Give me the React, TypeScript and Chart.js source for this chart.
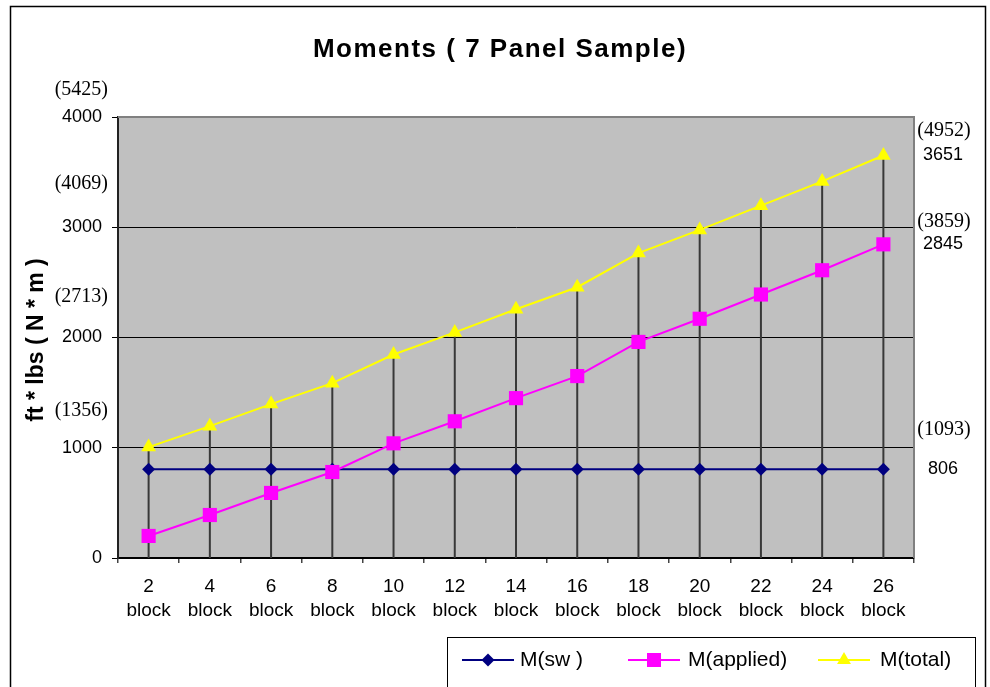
import { useEffect, useRef } from 'react';
import { Chart, registerables } from 'chart.js';

Chart.register(...registerables);

const categories = ['2', '4', '6', '8', '10', '12', '14', '16', '18', '20', '22', '24', '26'];
const categorySuffix = 'block';
const mSw = [806, 806, 806, 806, 806, 806, 806, 806, 806, 806, 806, 806, 806];
const mApplied = [200, 390, 590, 780, 1040, 1240, 1450, 1650, 1960, 2170, 2390, 2610, 2845];
const mTotal = [1006, 1196, 1396, 1586, 1846, 2046, 2256, 2456, 2766, 2976, 3196, 3416, 3651];
const yTicks = [0, 1000, 2000, 3000, 4000];
const leftMetricLabels = ['(5425)', '(4069)', '(2713)', '(1356)'];
const leftMetricTickValues = [4000, 3000, 2000, 1000];
const leftMetricOffsets = [-27, -44, -41, -37];
const rightValues = [3651, 2845, 806];
const rightMetricLabels = ['(4952)', '(3859)', '(1093)'];
const rightMetricOffsets = [-25, -23, -39];
const titleText = 'Moments ( 7 Panel Sample)';
const yTitleText = 'ft * lbs ( N * m )';
const seriesNames = ['M(sw )', 'M(applied)', 'M(total)'];
const seriesColors = ['#000080', '#FF00FF', '#FFFF00'];

const SANS = "'Liberation Sans', Arial, sans-serif";
const SERIF = "'Liberation Serif', 'Times New Roman', serif";

function drawMarker(ctx: CanvasRenderingContext2D, kind: string, x: number, y: number, color: string) {
  ctx.save();
  ctx.fillStyle = color;
  ctx.beginPath();
  if (kind === 'diamond') {
    const r = 6.5;
    ctx.moveTo(x, y - r);
    ctx.lineTo(x + r, y);
    ctx.lineTo(x, y + r);
    ctx.lineTo(x - r, y);
  } else if (kind === 'square') {
    const h = 7;
    ctx.rect(x - h, y - h, 2 * h, 2 * h);
  } else {
    const r = 8;
    ctx.moveTo(x, y - r);
    ctx.lineTo(x + r * 0.866, y + r * 0.5);
    ctx.lineTo(x - r * 0.866, y + r * 0.5);
  }
  ctx.closePath();
  ctx.fill();
  ctx.restore();
}

const decorPlugin = {
  id: 'decor',
  beforeDraw(chart: any) {
    const { ctx, chartArea } = chart;
    ctx.save();
    ctx.fillStyle = '#FFFFFF';
    ctx.fillRect(0, 0, chart.width, chart.height);
    ctx.fillStyle = '#C0C0C0';
    ctx.fillRect(chartArea.left, chartArea.top, chartArea.right - chartArea.left, chartArea.bottom - chartArea.top);
    ctx.restore();
  },
  beforeDatasetsDraw(chart: any) {
    const { ctx, chartArea, scales } = chart;
    const y = scales.y;
    const x = scales.x;
    ctx.save();
    ctx.strokeStyle = '#808080';
    ctx.lineWidth = 2;
    ctx.beginPath();
    ctx.moveTo(chartArea.left, chartArea.top);
    ctx.lineTo(chartArea.right, chartArea.top);
    ctx.lineTo(chartArea.right, chartArea.bottom);
    ctx.stroke();
    ctx.strokeStyle = '#383838';
    ctx.lineWidth = 2;
    for (let i = 0; i < categories.length; i++) {
      const maxV = Math.max(mSw[i], mApplied[i], mTotal[i]);
      const px = x.getPixelForValue(i);
      ctx.beginPath();
      ctx.moveTo(px, y.getPixelForValue(maxV));
      ctx.lineTo(px, y.getPixelForValue(0));
      ctx.stroke();
    }
    ctx.restore();
  },
  afterDraw(chart: any) {
    const { ctx, scales, chartArea } = chart;
    const y = scales.y;
    ctx.save();
    ctx.strokeStyle = '#000';
    ctx.lineWidth = 1.5;
    ctx.strokeRect(10.5, 6.5, 975, 720);

    ctx.fillStyle = '#000';
    ctx.font = `bold 26px ${SANS}`;
    (ctx as any).letterSpacing = '1.5px';
    ctx.textAlign = 'center';
    ctx.textBaseline = 'alphabetic';
    ctx.fillText(titleText, 500, 57);

    ctx.save();
    ctx.translate(37, 340);
    ctx.rotate(-Math.PI / 2);
    ctx.font = `bold 23px ${SANS}`;
    (ctx as any).letterSpacing = '0px';
    ctx.textAlign = 'center';
    ctx.textBaseline = 'middle';
    ctx.fillText(yTitleText, 0, 0);
    ctx.restore();
    (ctx as any).letterSpacing = '0px';

    ctx.font = `20px ${SERIF}`;
    ctx.textAlign = 'right';
    ctx.textBaseline = 'middle';
    leftMetricLabels.forEach((t, i) => {
      ctx.fillText(t, 108, y.getPixelForValue(leftMetricTickValues[i]) + leftMetricOffsets[i]);
    });

    const rx = chartArea.right + 30;
    rightValues.forEach((v, i) => {
      const py = y.getPixelForValue(v);
      ctx.textAlign = 'center';
      ctx.font = `20px ${SERIF}`;
      ctx.fillText(rightMetricLabels[i], rx, py + rightMetricOffsets[i]);
      ctx.font = `18px ${SANS}`;
      ctx.fillText(String(v), rx - 1, py);
    });

    ctx.strokeStyle = '#000';
    ctx.lineWidth = 1;
    ctx.strokeRect(447.5, 637.5, 528, 80);
    const legendItems = [
      { lx: 462, tx: 520, kind: 'diamond' },
      { lx: 628, tx: 688, kind: 'square' },
      { lx: 818, tx: 880, kind: 'triangle' },
    ];
    const ly = 660;
    legendItems.forEach((it, i) => {
      ctx.strokeStyle = seriesColors[i];
      ctx.lineWidth = 2;
      ctx.beginPath();
      ctx.moveTo(it.lx, ly);
      ctx.lineTo(it.lx + 52, ly);
      ctx.stroke();
      drawMarker(ctx, it.kind, it.lx + 26, ly, seriesColors[i]);
      ctx.fillStyle = '#000';
      ctx.font = `21px ${SANS}`;
      ctx.textAlign = 'left';
      ctx.textBaseline = 'middle';
      ctx.fillText(seriesNames[i], it.tx, ly);
    });
    ctx.restore();
  },
};

export default function App() {
  const canvasRef = useRef<HTMLCanvasElement | null>(null);

  useEffect(() => {
    const canvas = canvasRef.current;
    if (!canvas) return;
    const chart = new Chart(canvas, {
      type: 'line',
      data: {
        labels: categories,
        datasets: [
          {
            label: seriesNames[0],
            data: mSw,
            borderColor: seriesColors[0],
            backgroundColor: seriesColors[0],
            pointBackgroundColor: seriesColors[0],
            pointBorderColor: seriesColors[0],
            pointStyle: 'rectRot',
            pointRadius: 6.5,
            pointBorderWidth: 0,
            borderWidth: 2,
            tension: 0,
            order: 3,
          },
          {
            label: seriesNames[1],
            data: mApplied,
            borderColor: seriesColors[1],
            backgroundColor: seriesColors[1],
            pointBackgroundColor: seriesColors[1],
            pointBorderColor: seriesColors[1],
            pointStyle: 'rect',
            pointRadius: 10,
            pointBorderWidth: 0,
            borderWidth: 2,
            tension: 0,
            order: 2,
          },
          {
            label: seriesNames[2],
            data: mTotal,
            borderColor: seriesColors[2],
            backgroundColor: seriesColors[2],
            pointBackgroundColor: seriesColors[2],
            pointBorderColor: seriesColors[2],
            pointStyle: 'triangle',
            pointRadius: 8.5,
            pointBorderWidth: 0,
            borderWidth: 2,
            tension: 0,
            order: 1,
          },
        ],
      },
      options: {
        responsive: false,
        animation: false,
        events: [],
        layout: { padding: { left: 0, top: 117, right: 76, bottom: 29 } },
        plugins: {
          legend: { display: false },
          title: { display: false },
          tooltip: { enabled: false },
        },
        scales: {
          x: {
            type: 'category',
            offset: true,
            grid: {
              offset: true,
              drawOnChartArea: false,
              drawTicks: true,
              tickLength: 5,
              tickColor: '#444',
              lineWidth: 1.5,
            },
            border: { display: true, color: '#000', width: 2 },
            ticks: {
              autoSkip: false,
              maxRotation: 0,
              minRotation: 0,
              padding: 12,
              color: '#000',
              font: { family: SANS, size: 19, lineHeight: 1.25 },
              callback: (_v: any, i: number) => [categories[i], categorySuffix],
            },
            afterFit: (s: any) => {
              s.height = 100;
            },
          },
          y: {
            min: yTicks[0],
            max: yTicks[yTicks.length - 1],
            afterBuildTicks: (s: any) => {
              s.ticks = yTicks.map((v) => ({ value: v }));
            },
            grid: {
              color: (c: any) => (c.tick && c.tick.value === 4000 ? 'rgba(0,0,0,0)' : '#000'),
              tickColor: '#000',
              lineWidth: 1,
              tickLength: 6,
              drawTicks: true,
            },
            border: { display: true, color: '#222', width: 2 },
            ticks: {
              padding: 10,
              color: '#000',
              font: { family: SANS, size: 18 },
              callback: (v: any) => String(v),
            },
            afterFit: (s: any) => {
              s.width = 118;
            },
          },
        },
      },
      plugins: [decorPlugin],
    });
    return () => chart.destroy();
  }, []);

  return (
    <div style={{ position: 'absolute', left: 0, top: 0, width: 990, height: 687, background: '#fff' }}>
      <canvas ref={canvasRef} width={990} height={687} style={{ display: 'block' }} />
    </div>
  );
}
